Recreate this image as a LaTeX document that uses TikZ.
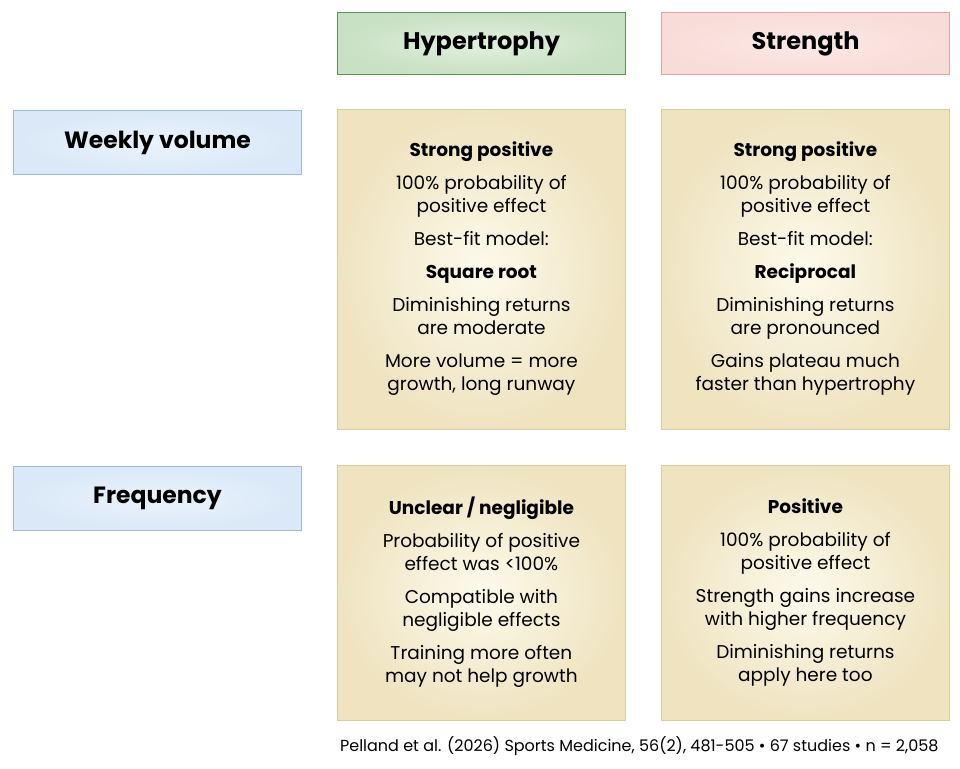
\documentclass[tikz,border=0pt]{standalone}
\usepackage{fontspec}
\setmainfont{Poppins}
\definecolor{hypline}{HTML}{5A9650}
\definecolor{hypin}{HTML}{E2F0DF}
\definecolor{hypout}{HTML}{C8E0C3}
\definecolor{strline}{HTML}{E6A49C}
\definecolor{strin}{HTML}{FCE9E6}
\definecolor{strout}{HTML}{F8DCD8}
\definecolor{rowline}{HTML}{9DBADF}
\definecolor{rowin}{HTML}{EAF3FC}
\definecolor{rowout}{HTML}{DAE8F7}
\definecolor{cellline}{HTML}{DCCB9C}
\definecolor{cellin}{HTML}{FDFAEC}
\definecolor{cellout}{HTML}{EFE3C0}
\begin{document}
\begin{tikzpicture}[x=1pt,y=-1pt,
  head/.style={draw, line width=1pt, minimum width=288pt, minimum height=62pt, anchor=north west, font=\fontsize{24}{28}\selectfont\bfseries},
  hyp/.style={head, draw=hypline, inner color=hypin, outer color=hypout},
  str/.style={head, draw=strline, inner color=strin, outer color=strout},
  rowh/.style={head, draw=rowline, minimum height=64pt, font=\fontsize{23.5}{28}\selectfont\bfseries, inner color=rowin, outer color=rowout},
  cell/.style={draw=cellline, line width=.8pt, minimum width=288pt, anchor=north west, inner color=cellin, outer color=cellout},
  body/.style={align=center, font=\fontsize{18.5}{23}\selectfont}]
\useasboundingbox (0,0) rectangle (960,768);
% column and row headings
\node[hyp] (hyp) at (337,12) {Hypertrophy};
\node[str] (str) at (661,12) {Strength};
\node[rowh] (vol) at (13,110) {Weekly volume};
\node[rowh] (freq) at (13,466) {Frequency};
% cells
\node[cell, minimum height=320pt] (c11) at (337,109) {};
\node[cell, minimum height=320pt] (c12) at (661,109) {};
\node[cell, minimum height=255pt] (c21) at (337,465) {};
\node[cell, minimum height=255pt] (c22) at (661,465) {};
\node[body] at ([yshift=1pt]c11.center) {\textbf{Strong positive}\\[10pt]
  100\% probability of\\positive effect\\[10pt]Best-fit model:\\[10pt]\textbf{Square root}\\[10pt]
  Diminishing returns\\are moderate\\[10pt]More volume = more\\growth, long runway};
\node[body] at ([yshift=1pt]c12.center) {\textbf{Strong positive}\\[10pt]
  100\% probability of\\positive effect\\[10pt]Best-fit model:\\[10pt]\textbf{Reciprocal}\\[10pt]
  Diminishing returns\\are pronounced\\[10pt]Gains plateau much\\faster than hypertrophy};
\node[body] at ([yshift=1pt]c21.center) {\textbf{Unclear / negligible}\\[10pt]
  Probability of positive\\effect was <100\%\\[10pt]Compatible with\\negligible effects\\[10pt]
  Training more often\\may not help growth};
\node[body] at ([yshift=0pt]c22.center) {\textbf{Positive}\\[10pt]
  100\% probability of\\positive effect\\[10pt]Strength gains increase\\with higher frequency\\[10pt]
  Diminishing returns\\apply here too};
% source
\node[anchor=east, font=\fontsize{16}{18}\selectfont] (src) at (942,746)
  {Pelland et al. (2026) Sports Medicine, 56(2), 481-505 • 67 studies • n = 2,058};
\end{tikzpicture}
\end{document}
